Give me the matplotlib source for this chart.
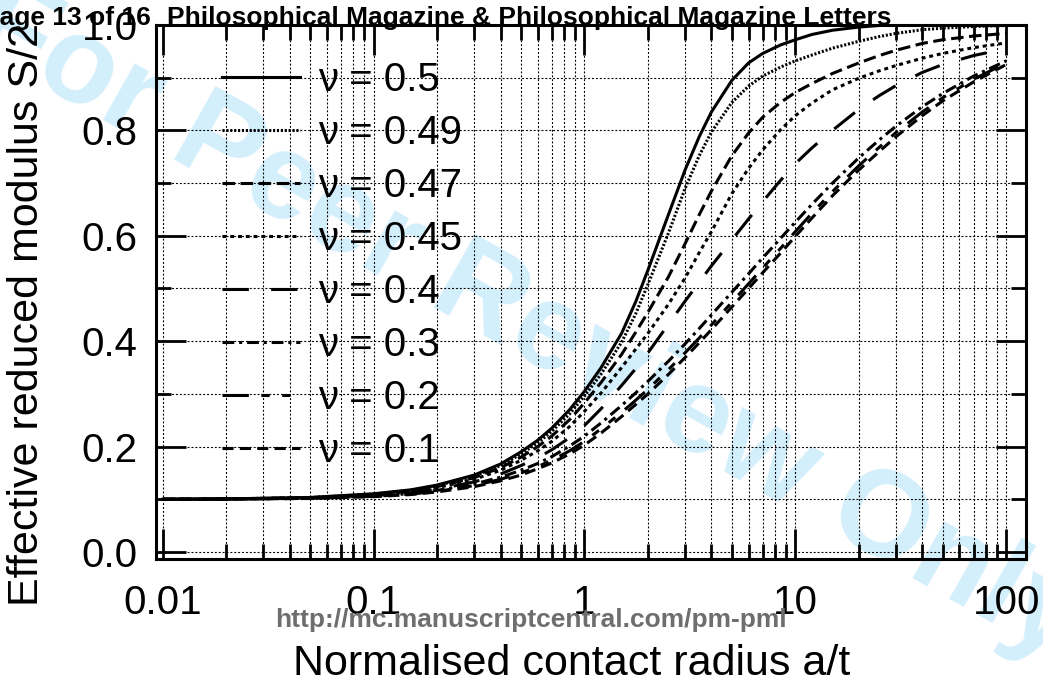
import numpy as np
import matplotlib
matplotlib.use("Agg")
import matplotlib.pyplot as plt
from matplotlib import font_manager
from matplotlib.ticker import MultipleLocator, LogLocator, NullFormatter

plt.rcParams['font.family'] = ['Liberation Sans', 'DejaVu Sans']
plt.rcParams['lines.scale_dashes'] = False

# Normalised contact radius a/t
a_t = [0.01, 0.02, 0.05, 0.1, 0.15, 0.2, 0.3, 0.4, 0.5, 0.6, 0.7, 0.85, 1, 1.2,
       1.5, 1.75, 2, 2.5, 3, 3.5, 4, 5, 6, 7, 8.5, 10, 12, 15, 20, 25, 30, 40,
       50, 70, 100]

# Effective reduced modulus, one curve per Poisson ratio
S_050 = [0.100, 0.1008, 0.1035, 0.1105, 0.118, 0.127, 0.146, 0.167, 0.190, 0.212,
         0.235, 0.270, 0.305, 0.350, 0.415, 0.475, 0.535, 0.640, 0.725, 0.788,
         0.835, 0.895, 0.928, 0.946, 0.962, 0.972, 0.982, 0.990, 0.996, 0.999,
         1.0, 1.0, 1.0, 1.0, 1.0]
S_049 = [0.100, 0.1008, 0.1033, 0.110, 0.117, 0.126, 0.144, 0.164, 0.186, 0.207,
         0.229, 0.262, 0.296, 0.338, 0.398, 0.452, 0.508, 0.605, 0.690, 0.752,
         0.797, 0.853, 0.884, 0.903, 0.920, 0.932, 0.943, 0.956, 0.969, 0.978,
         0.984, 0.991, 0.994, 0.997, 0.999]
S_047 = [0.100, 0.1007, 0.103, 0.109, 0.116, 0.124, 0.141, 0.160, 0.180, 0.200,
         0.220, 0.251, 0.283, 0.322, 0.375, 0.417, 0.455, 0.522, 0.585, 0.640,
         0.685, 0.752, 0.795, 0.825, 0.853, 0.872, 0.889, 0.908, 0.928, 0.942,
         0.952, 0.965, 0.972, 0.979, 0.984]
S_045 = [0.100, 0.1007, 0.1028, 0.108, 0.114, 0.122, 0.138, 0.155, 0.174, 0.192,
         0.210, 0.238, 0.267, 0.302, 0.350, 0.385, 0.415, 0.470, 0.520, 0.568,
         0.608, 0.680, 0.728, 0.763, 0.801, 0.828, 0.852, 0.877, 0.899, 0.913,
         0.923, 0.937, 0.946, 0.957, 0.966]
S_040 = [0.100, 0.1006, 0.1025, 0.107, 0.112, 0.119, 0.133, 0.148, 0.164, 0.179,
         0.194, 0.217, 0.240, 0.272, 0.316, 0.348, 0.378, 0.432, 0.476, 0.512,
         0.543, 0.592, 0.632, 0.665, 0.705, 0.737, 0.767, 0.800, 0.840, 0.866,
         0.885, 0.910, 0.925, 0.942, 0.955]
S_030 = [0.100, 0.1005, 0.102, 0.106, 0.111, 0.117, 0.129, 0.142, 0.155, 0.168,
         0.181, 0.201, 0.220, 0.245, 0.278, 0.302, 0.324, 0.362, 0.395, 0.424,
         0.450, 0.493, 0.528, 0.558, 0.595, 0.626, 0.660, 0.700, 0.748, 0.782,
         0.808, 0.845, 0.870, 0.903, 0.932]
S_020 = [0.100, 0.1005, 0.1018, 0.1055, 0.110, 0.115, 0.126, 0.138, 0.150, 0.162,
         0.174, 0.192, 0.210, 0.234, 0.265, 0.288, 0.309, 0.346, 0.378, 0.406,
         0.431, 0.474, 0.509, 0.539, 0.576, 0.608, 0.643, 0.684, 0.733, 0.768,
         0.796, 0.835, 0.862, 0.897, 0.928]
S_010 = [0.100, 0.1005, 0.1016, 0.105, 0.109, 0.114, 0.124, 0.135, 0.146, 0.158,
         0.169, 0.186, 0.203, 0.226, 0.257, 0.280, 0.300, 0.337, 0.369, 0.397,
         0.422, 0.465, 0.500, 0.530, 0.567, 0.599, 0.634, 0.676, 0.725, 0.760,
         0.788, 0.828, 0.856, 0.892, 0.925]

nu = ['0.5', '0.49', '0.47', '0.45', '0.4', '0.3', '0.2', '0.1']
curvas = [S_050, S_049, S_047, S_045, S_040, S_030, S_020, S_010]

# estilos tipo gnuplot
estilos = ['-', (0, (1.5, 1.3)), (0, (9, 4)), (0, (2.8, 2.8)), (0, (19, 16)),
           (0, (8.5, 3.5, 2.2, 3.5)), (0, (19, 9, 6, 9, 6, 9)), (0, (8, 4.5))]

fs = 29
fig = plt.figure(figsize=(10.43, 6.84), dpi=100)
ax = fig.add_axes([0.1493, 0.1827, 0.8341, 0.7808])
ax.patch.set_alpha(0)

# marca de agua
fig.text(0.506, 0.527, 'For Peer Review Only', fontsize=88, fontweight='bold',
         color='#d3effc', rotation=-29.5, ha='center', va='center',
         rotation_mode='anchor', zorder=-5)

for y, lab, ls in zip(curvas, nu, estilos):
    ax.plot(a_t, y, color='k', linewidth=2.2, linestyle=ls,
            dash_capstyle='butt', label='ν = ' + lab)

ax.set_xscale('log')
ax.set_xlim(0.00927, 123.6)
ax.set_ylim(-0.0133, 1.0)
ax.set_xticks([0.01, 0.1, 1, 10, 100], ['0.01', '0.1', '1', '10', '100'])
ax.xaxis.set_minor_locator(LogLocator(base=10, subs=np.arange(2, 10), numticks=20))
ax.xaxis.set_minor_formatter(NullFormatter())
ax.set_yticks(np.arange(0, 1.01, 0.2), ['0.0', '0.2', '0.4', '0.6', '0.8', '1.0'])
ax.yaxis.set_minor_locator(MultipleLocator(0.1))

ax.tick_params(which='major', direction='in', length=21.6, width=2, top=True,
               right=True, labelsize=fs)
ax.tick_params(which='minor', direction='in', length=10.8, width=2, top=True,
               right=True)
ax.tick_params(axis='x', which='major', pad=18)
ax.tick_params(axis='y', which='major', pad=13)
ax.grid(which='both', color='k', linewidth=0.8, linestyle=(0, (1.4, 1.4)))
for s in ax.spines.values():
    s.set_linewidth(2.2)

ax.legend(loc='upper left', bbox_to_anchor=(0.0762, 0.932), frameon=False,
          fontsize=fs, handlelength=1.94, handletextpad=0.45, labelspacing=0.37,
          borderpad=0, borderaxespad=0)

fig.text(572/1043, 1-664/684, 'Normalised contact radius a/t', fontsize=31,
         ha='center', va='center')
fig.text(27/1043, 1-606/684, 'Effective reduced modulus S/2', fontsize=31,
         rotation=90, ha='center', va='bottom')

# encabezado y pie de pagina
fig.text(-0.0168, 1-25/684, 'Page 13 of 16', fontsize=19, fontweight='bold',
         ha='left', va='baseline')
fig.text(167/1043, 1-25/684, 'Philosophical Magazine & Philosophical Magazine Letters',
         fontsize=19, fontweight='bold', ha='left', va='baseline')
nombres = {f.name for f in font_manager.fontManager.ttflist}
if 'Liberation Sans Narrow' in nombres:
    fam, tam = ['Liberation Sans Narrow', 'Liberation Sans'], 23
else:
    fam, tam = ['Liberation Sans', 'DejaVu Sans'], 19
fig.text(531/1043, 1-627/684, 'http://mc.manuscriptcentral.com/pm-pml',
         fontsize=tam, family=fam, fontweight='bold', color='#6e6e6e',
         ha='center', va='baseline')

fig.savefig('out.png', dpi=100)
